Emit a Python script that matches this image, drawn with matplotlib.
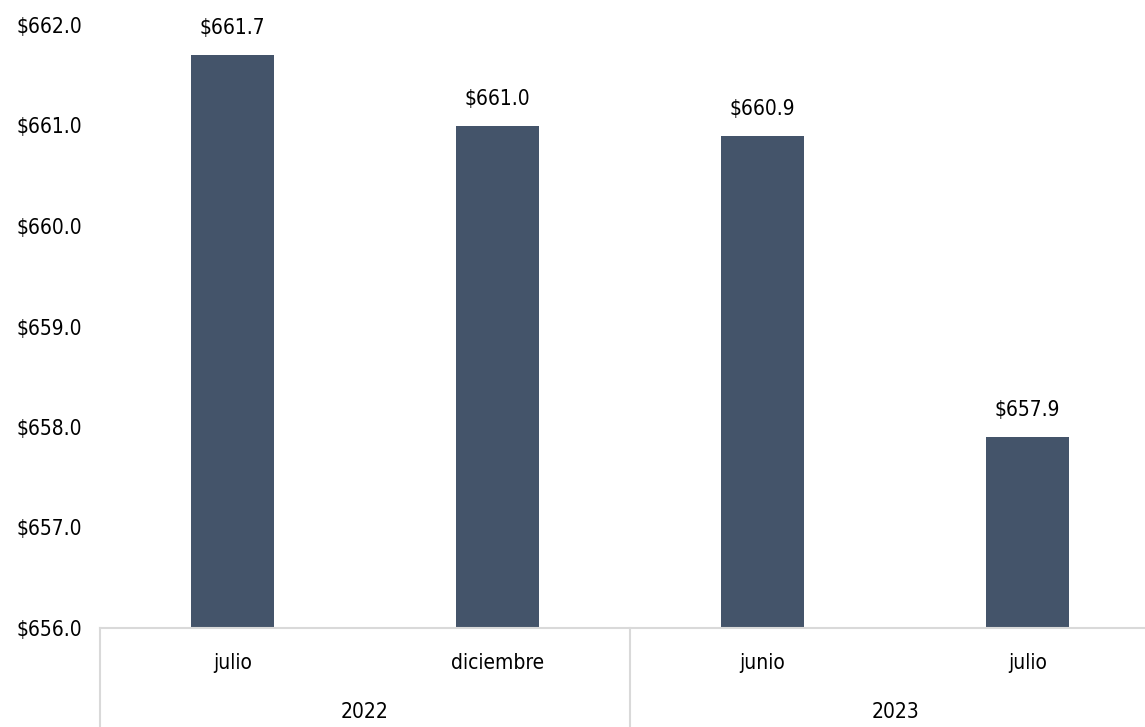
import matplotlib.pyplot as plt
from matplotlib.transforms import blended_transform_factory

months = ["julio", "diciembre", "junio", "julio"]
years = ["2022", "2023"]
months_per_year = [2, 2]
values = [661.7, 661.0, 660.9, 657.9]
y_ticks = [656, 657, 658, 659, 660, 661, 662]

plt.rcParams["font.family"] = ["DejaVu Sans"]
plt.rcParams["font.stretch"] = "condensed"
FS = 15

fig = plt.figure(figsize=(11.45, 7.27), dpi=100)
ax = fig.add_axes([100 / 1145, 99 / 727, 1060 / 1145, 603 / 727])

x = list(range(len(values)))
ax.bar(x, [v - y_ticks[0] for v in values], bottom=y_ticks[0],
       width=0.31, color="#44546A")
for xi, v in zip(x, values):
    ax.annotate(f"${v:.1f}", (xi, v), xytext=(0, 12), textcoords="offset points",
                ha="center", va="bottom", fontsize=FS, color="#000000")

ax.set_xlim(-0.5, len(values) - 0.5)
ax.set_ylim(y_ticks[0], y_ticks[-1])
ax.set_yticks(y_ticks)
ax.set_yticklabels([f"${t:.1f}" for t in y_ticks], fontsize=FS)
ax.tick_params(axis="y", length=0, pad=13)
ax.set_xticks([])
for side in ["top", "right", "left"]:
    ax.spines[side].set_visible(False)
ax.spines["bottom"].set_color("#D9D9D9")
ax.spines["bottom"].set_linewidth(1.5)

# multi-level category axis
trans = blended_transform_factory(ax.transData, ax.transAxes)
for xi, m in zip(x, months):
    ax.text(xi, -0.058, m, transform=trans, ha="center", va="center", fontsize=FS)
start = 0
bounds = [-0.5]
for yr, n in zip(years, months_per_year):
    center = start + (n - 1) / 2
    ax.text(center, -0.14, yr, transform=trans, ha="center", va="center", fontsize=FS)
    start += n
    bounds.append(start - 0.5)
for b in bounds:
    ax.plot([b, b], [0, -0.2], transform=trans, color="#D9D9D9", lw=1.5, clip_on=False)

fig.savefig("out.png", dpi=100)
